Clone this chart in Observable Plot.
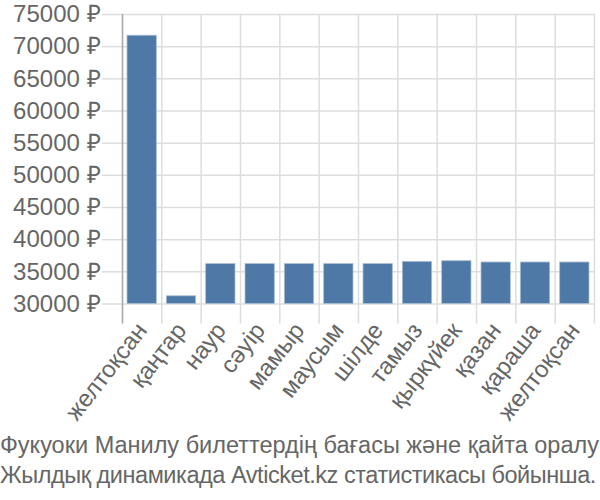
<!DOCTYPE html>
<html><head><meta charset="utf-8">
<script src="https://cdn.jsdelivr.net/npm/d3@7"></script>
<script src="https://cdn.jsdelivr.net/npm/@observablehq/plot@0.6"></script>
<style>
body{margin:0;background:#fff;font-family:"Liberation Sans",Arial,sans-serif;}
#caption{font-size:23.5px;color:#666;line-height:30px;white-space:nowrap;}
#caption div:nth-child(2){letter-spacing:-0.45px;}
</style></head><body>
<div id="chart"></div>
<div id="caption"></div>
<script>
const months = ["желтоқсан","қаңтар","наур","сәуір","мамыр","маусым","шілде","тамыз","қыркүйек","қазан","қараша","желтоқсан"];
const prices = [71700, 31200, 36200, 36200, 36200, 36200, 36200, 36550, 36650, 36450, 36450, 36450];
const yTicks = [30000, 35000, 40000, 45000, 50000, 55000, 60000, 65000, 70000, 75000];
const captionLines = ["Фукуоки Манилу билеттердің бағасы және қайта оралу", "Жылдық динамикада Avticket.kz статистикасы бойынша."];

const data = months.map((m, i) => ({i, month: m, price: prices[i]}));
const bounds = d3.range(months.length + 1);
const centers = data.map(d => d.i + 0.5);

const plot = Plot.plot({
  width: 600, height: 430,
  marginTop: 14, marginLeft: 122, marginRight: 6, marginBottom: 126.5,
  style: {fontFamily: '"Liberation Sans", Arial, sans-serif', fontSize: "24px", color: "#666", background: "#fff"},
  x: {type: "linear", domain: [0, months.length], axis: null, label: null},
  y: {domain: [30000, 75000], axis: null, label: null},
  marks: [
    Plot.gridY(yTicks, {stroke: "#ddd", strokeOpacity: 1, strokeWidth: 1.5}),
    Plot.gridX(bounds, {stroke: "#ddd", strokeOpacity: 1, strokeWidth: 1.5}),
    Plot.rectY(data, {x1: "i", x2: d => d.i + 1, y1: 30000, y2: "price", fill: "#4e79a7", stroke: "#a8bdd4", strokeWidth: 0.8, insetLeft: 5, insetRight: 5}),
    Plot.axisY(yTicks, {tickSize: 20, tickPadding: 2, tickFormat: d => d + " ₽", stroke: "#ddd", strokeWidth: 1.5, fill: "#666", label: null}),
    Plot.axisX(bounds, {tickSize: 20, tickFormat: () => "", stroke: "#ddd", strokeWidth: 1.5, label: null}),
    Plot.axisX(centers, {tickSize: 0, tickPadding: 22, tickRotate: -52, tickFormat: v => months[Math.floor(v)], fill: "#666", label: null}),
    Plot.ruleX([0], {stroke: "#aaa", strokeWidth: 1.5, insetBottom: -20})
  ]
});
document.getElementById("chart").appendChild(plot);
document.getElementById("caption").innerHTML = captionLines.map(l => `<div>${l}</div>`).join("");
</script>
</body></html>
